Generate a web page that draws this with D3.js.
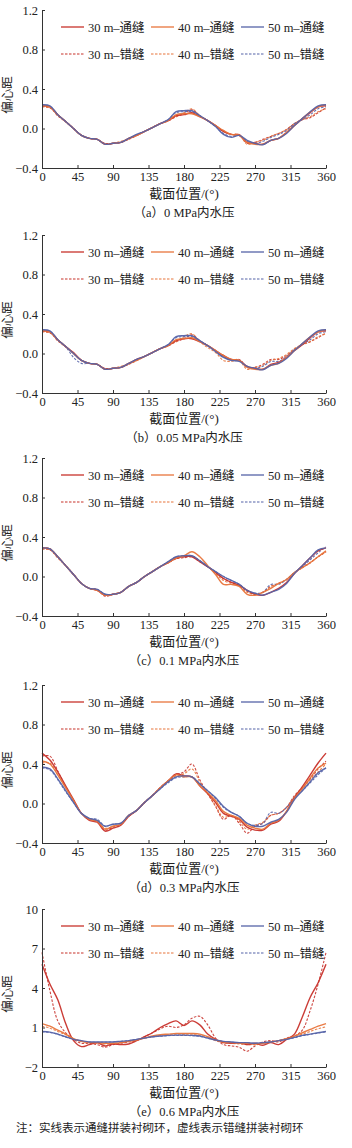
<!DOCTYPE html>
<html>
<head>
<meta charset="utf-8">
<script src="https://cdn.jsdelivr.net/npm/d3@7"></script>
<style>
body { margin: 0; background: #fff; }
text { font-family: "Liberation Serif", "Noto Sans CJK SC", serif; fill: #222; }
.axis path, .axis line { stroke: #333; stroke-width: 1; }
</style>
</head>
<body>
<svg id="chart"></svg>
<script>
var w = 352;
var h = 1148;

// angle positions shared by every series
var angles = [0,10,20,30,40,50,60,70,80,90,100,110,120,130,140,150,160,170,180,
              190,200,210,220,230,240,250,260,270,280,290,300,310,320,330,340,350,360];
var xTicks = [0,45,90,135,180,225,270,315,360];
var yTicksSmall = [-0.4,0,0.4,0.8,1.2];
var yTicksLarge = [-2,1,4,7,10];

var seriesNames = ["30 m–通缝","40 m–通缝","50 m–通缝","30 m–错缝","40 m–错缝","50 m–错缝"];
var seriesColors = ["#c8322b","#e8743b","#5563a8","#c8322b","#e8743b","#5563a8"];
var captions = ["（a）0 MPa内水压","（b）0.05 MPa内水压","（c）0.1 MPa内水压","（d）0.3 MPa内水压","（e）0.6 MPa内水压"];

// (a) 0 MPa
var a30s = [0.23,0.22,0.14,0.07,0.00,-0.07,-0.10,-0.11,-0.16,-0.15,-0.14,-0.10,-0.07,-0.03,0.01,0.05,0.08,0.13,0.14,0.16,0.12,0.08,0.03,-0.03,-0.06,-0.07,-0.14,-0.15,-0.16,-0.12,-0.10,-0.04,0.03,0.10,0.16,0.22,0.23];
var a40s = [0.23,0.22,0.14,0.07,0.00,-0.07,-0.10,-0.11,-0.16,-0.15,-0.14,-0.10,-0.07,-0.03,0.01,0.05,0.08,0.14,0.15,0.15,0.12,0.08,0.03,-0.02,-0.06,-0.07,-0.14,-0.16,-0.16,-0.12,-0.10,-0.04,0.03,0.10,0.17,0.22,0.24];
var a50s = [0.24,0.23,0.14,0.07,0.00,-0.07,-0.10,-0.11,-0.16,-0.15,-0.14,-0.10,-0.06,-0.03,0.01,0.05,0.09,0.17,0.18,0.18,0.13,0.08,0.02,-0.06,-0.09,-0.07,-0.12,-0.15,-0.165,-0.12,-0.10,-0.05,0.03,0.10,0.17,0.23,0.24];
var a30d = [0.22,0.21,0.13,0.07,0.00,-0.07,-0.10,-0.11,-0.15,-0.15,-0.14,-0.11,-0.07,-0.03,0.01,0.05,0.08,0.12,0.15,0.19,0.13,0.08,0.03,-0.03,-0.06,-0.06,-0.15,-0.14,-0.11,-0.08,-0.05,-0.01,0.05,0.09,0.11,0.16,0.21];
var a40d = [0.22,0.21,0.13,0.07,0.00,-0.07,-0.10,-0.11,-0.16,-0.15,-0.13,-0.11,-0.07,-0.03,0.01,0.05,0.08,0.12,0.16,0.20,0.13,0.08,0.03,-0.03,-0.06,-0.06,-0.16,-0.14,-0.12,-0.08,-0.05,-0.01,0.05,0.09,0.12,0.17,0.20];
var a50d = [0.23,0.22,0.14,0.07,0.00,-0.07,-0.10,-0.11,-0.16,-0.15,-0.14,-0.10,-0.06,-0.03,0.01,0.05,0.09,0.16,0.17,0.17,0.13,0.08,0.02,-0.05,-0.08,-0.07,-0.13,-0.15,-0.13,-0.09,-0.06,-0.02,0.05,0.09,0.14,0.20,0.22];

// (b) 0.05 MPa
var b30s = [0.23,0.22,0.14,0.07,0.01,-0.07,-0.10,-0.11,-0.16,-0.15,-0.14,-0.10,-0.06,-0.03,0.01,0.05,0.08,0.13,0.15,0.15,0.12,0.08,0.03,-0.02,-0.06,-0.07,-0.13,-0.15,-0.16,-0.11,-0.09,-0.04,0.03,0.09,0.16,0.22,0.23];
var b40s = [0.23,0.22,0.14,0.07,0.00,-0.07,-0.10,-0.11,-0.16,-0.15,-0.14,-0.10,-0.07,-0.03,0.01,0.05,0.08,0.14,0.15,0.16,0.12,0.08,0.03,-0.02,-0.06,-0.07,-0.14,-0.16,-0.16,-0.12,-0.10,-0.04,0.03,0.10,0.17,0.22,0.24];
var b50s = [0.24,0.23,0.14,0.07,0.00,-0.07,-0.10,-0.11,-0.16,-0.15,-0.14,-0.10,-0.06,-0.03,0.01,0.05,0.09,0.17,0.18,0.18,0.13,0.08,0.02,-0.04,-0.07,-0.08,-0.13,-0.15,-0.165,-0.12,-0.10,-0.05,0.03,0.10,0.17,0.23,0.24];
var b30d = [0.22,0.21,0.13,0.07,0.00,-0.07,-0.10,-0.11,-0.15,-0.15,-0.14,-0.11,-0.07,-0.03,0.01,0.05,0.08,0.12,0.15,0.19,0.13,0.08,0.03,-0.03,-0.07,-0.06,-0.14,-0.14,-0.11,-0.06,-0.06,-0.02,0.04,0.09,0.12,0.16,0.21];
var b40d = [0.22,0.21,0.13,0.07,0.00,-0.07,-0.10,-0.11,-0.16,-0.15,-0.13,-0.11,-0.07,-0.03,0.01,0.05,0.08,0.12,0.17,0.20,0.12,0.06,0.01,-0.07,-0.08,-0.07,-0.16,-0.14,-0.12,-0.07,-0.05,-0.01,0.05,0.09,0.12,0.17,0.20];
var b50d = [0.23,0.22,0.14,0.07,-0.04,-0.10,-0.10,-0.11,-0.16,-0.15,-0.14,-0.10,-0.06,-0.03,0.01,0.05,0.09,0.16,0.17,0.17,0.13,0.08,0.02,-0.03,-0.07,-0.07,-0.13,-0.15,-0.13,-0.08,-0.08,-0.03,0.04,0.09,0.14,0.20,0.22];

// (c) 0.1 MPa
var c30s = [0.29,0.28,0.20,0.11,0.02,-0.07,-0.12,-0.14,-0.19,-0.18,-0.16,-0.10,-0.06,0.00,0.05,0.10,0.14,0.19,0.20,0.20,0.15,0.10,0.04,-0.02,-0.06,-0.09,-0.14,-0.18,-0.19,-0.16,-0.12,-0.06,0.03,0.11,0.19,0.26,0.29];
var c40s = [0.29,0.28,0.20,0.11,0.02,-0.07,-0.12,-0.14,-0.19,-0.18,-0.16,-0.10,-0.06,0.00,0.05,0.10,0.14,0.19,0.21,0.25,0.20,0.11,0.02,-0.08,-0.08,-0.10,-0.18,-0.19,-0.16,-0.12,-0.07,-0.03,0.04,0.09,0.14,0.20,0.26];
var c50s = [0.29,0.28,0.20,0.11,0.02,-0.07,-0.12,-0.13,-0.18,-0.18,-0.16,-0.10,-0.06,0.00,0.05,0.10,0.15,0.20,0.21,0.21,0.16,0.10,0.05,0.00,-0.04,-0.08,-0.14,-0.17,-0.19,-0.16,-0.13,-0.07,0.03,0.11,0.19,0.27,0.29];
var c30d = [0.28,0.27,0.19,0.11,0.02,-0.07,-0.12,-0.13,-0.20,-0.18,-0.16,-0.10,-0.06,0.00,0.05,0.10,0.14,0.18,0.19,0.20,0.15,0.10,0.04,-0.02,-0.06,-0.08,-0.15,-0.18,-0.16,-0.10,-0.07,-0.03,0.04,0.09,0.14,0.20,0.25];
var c40d = [0.28,0.27,0.19,0.11,0.02,-0.07,-0.12,-0.14,-0.19,-0.18,-0.16,-0.10,-0.06,0.00,0.05,0.10,0.14,0.18,0.20,0.21,0.16,0.10,0.03,-0.04,-0.07,-0.09,-0.16,-0.18,-0.16,-0.10,-0.07,-0.03,0.04,0.09,0.14,0.20,0.25];
var c50d = [0.29,0.28,0.20,0.11,0.02,-0.07,-0.12,-0.13,-0.18,-0.18,-0.16,-0.10,-0.06,0.00,0.05,0.10,0.15,0.20,0.21,0.21,0.16,0.10,0.05,0.00,-0.04,-0.08,-0.14,-0.17,-0.16,-0.08,-0.08,-0.03,0.04,0.10,0.17,0.24,0.30];

// (d) 0.3 MPa
var d30s = [0.51,0.44,0.32,0.18,0.04,-0.10,-0.17,-0.19,-0.28,-0.25,-0.22,-0.13,-0.07,0.01,0.08,0.16,0.23,0.30,0.28,0.27,0.18,0.10,0.01,-0.10,-0.13,-0.16,-0.24,-0.27,-0.27,-0.21,-0.18,-0.08,0.06,0.17,0.29,0.41,0.51];
var d40s = [0.43,0.40,0.29,0.16,0.03,-0.10,-0.16,-0.18,-0.26,-0.23,-0.21,-0.12,-0.07,0.01,0.08,0.16,0.23,0.29,0.27,0.27,0.18,0.11,0.03,-0.08,-0.12,-0.15,-0.22,-0.25,-0.26,-0.20,-0.17,-0.08,0.05,0.15,0.26,0.36,0.41];
var d50s = [0.37,0.35,0.25,0.13,0.01,-0.10,-0.15,-0.17,-0.23,-0.21,-0.20,-0.12,-0.07,0.01,0.08,0.15,0.22,0.27,0.28,0.27,0.20,0.13,0.06,-0.03,-0.09,-0.13,-0.20,-0.23,-0.23,-0.19,-0.16,-0.09,0.04,0.13,0.22,0.31,0.36];
var d30d = [0.48,0.48,0.33,0.17,0.03,-0.10,-0.16,-0.18,-0.27,-0.24,-0.21,-0.13,-0.07,0.01,0.08,0.16,0.23,0.29,0.32,0.40,0.24,0.10,-0.03,-0.16,-0.12,-0.20,-0.30,-0.23,-0.20,-0.12,-0.10,-0.04,0.08,0.16,0.25,0.35,0.43];
var d40d = [0.41,0.41,0.29,0.16,0.03,-0.10,-0.16,-0.18,-0.25,-0.23,-0.21,-0.12,-0.07,0.01,0.08,0.16,0.23,0.28,0.30,0.35,0.22,0.10,-0.02,-0.14,-0.12,-0.18,-0.26,-0.22,-0.19,-0.12,-0.10,-0.04,0.07,0.15,0.24,0.32,0.40];
var d50d = [0.36,0.34,0.24,0.12,0.01,-0.10,-0.15,-0.16,-0.23,-0.21,-0.20,-0.12,-0.07,0.01,0.08,0.15,0.21,0.26,0.27,0.27,0.20,0.13,0.05,-0.04,-0.09,-0.13,-0.20,-0.22,-0.20,-0.09,-0.10,-0.04,0.06,0.13,0.21,0.29,0.36];

// (e) 0.6 MPa
var e30s = [5.8,4.3,3.1,1.3,0.0,-0.45,-0.3,-0.15,-0.4,-0.25,-0.3,-0.25,0.0,0.3,0.6,1.0,1.3,1.5,1.15,1.5,1.2,0.5,0.1,-0.15,-0.2,-0.15,-0.3,-0.2,-0.35,-0.15,-0.3,0.1,0.5,1.8,3.3,4.4,5.8];
var e40s = [1.3,1.1,0.8,0.5,0.15,-0.05,-0.15,-0.15,-0.2,-0.2,-0.15,-0.05,0.05,0.2,0.35,0.45,0.5,0.55,0.55,0.55,0.5,0.3,0.05,-0.1,-0.15,-0.2,-0.2,-0.25,-0.2,-0.1,0.0,0.15,0.35,0.6,0.85,1.1,1.3];
var e50s = [0.7,0.65,0.5,0.3,0.1,0.0,-0.1,-0.1,-0.1,-0.1,-0.05,0.0,0.1,0.2,0.3,0.35,0.4,0.42,0.42,0.4,0.35,0.2,0.05,-0.05,-0.1,-0.15,-0.15,-0.2,-0.15,-0.1,0.0,0.1,0.25,0.4,0.5,0.6,0.7];
var e30d = [6.7,3.8,1.5,0.6,0.1,-0.2,-0.2,-0.3,-0.5,-0.3,-0.2,-0.1,0.0,0.3,0.6,0.9,1.1,1.0,1.2,1.7,1.85,1.2,0.2,-0.3,-0.4,-0.5,-0.8,-0.4,-0.1,0.0,-0.1,0.2,0.35,0.8,2.3,4.3,6.7];
var e40d = [1.1,0.95,0.7,0.45,0.15,-0.05,-0.15,-0.2,-0.25,-0.2,-0.15,-0.05,0.05,0.2,0.3,0.4,0.45,0.45,0.45,0.45,0.4,0.25,0.0,-0.15,-0.2,-0.25,-0.3,-0.3,-0.2,-0.1,0.0,0.15,0.3,0.5,0.7,0.9,1.05];
var e50d = [0.68,0.62,0.48,0.28,0.1,-0.02,-0.1,-0.12,-0.12,-0.1,-0.05,0.0,0.1,0.2,0.28,0.34,0.38,0.4,0.4,0.38,0.33,0.18,0.04,-0.06,-0.12,-0.15,-0.18,-0.2,-0.15,-0.1,0.0,0.1,0.22,0.38,0.48,0.58,0.68];

var panels = [
    {top: 10,  domain: [-0.4, 1.2], ticks: yTicksSmall, series: [a30s,a40s,a50s,a30d,a40d,a50d]},
    {top: 235, domain: [-0.4, 1.2], ticks: yTicksSmall, series: [b30s,b40s,b50s,b30d,b40d,b50d]},
    {top: 458, domain: [-0.4, 1.2], ticks: yTicksSmall, series: [c30s,c40s,c50s,c30d,c40d,c50d]},
    {top: 685, domain: [-0.4, 1.2], ticks: yTicksSmall, series: [d30s,d40s,d50s,d30d,d40d,d50d]},
    {top: 909, domain: [-2, 10],    ticks: yTicksLarge, series: [e30s,e40s,e50s,e30d,e40d,e50d]}
];

var left = 42, right = 326, ph = 158;

var svg = d3.select("#chart")
    .attr("width", w)
    .attr("height", h);

var xScale = d3.scaleLinear()
    .domain([0, 360])
    .range([left, right]);

panels.forEach(function(p, i) {
    var g = svg.append("g");
    var yScale = d3.scaleLinear()
        .domain(p.domain)
        .range([p.top + ph, p.top]);

    var line = d3.line()
        .x(function(d, j) { return xScale(angles[j]); })
        .y(function(d) { return yScale(d); })
        .curve(d3.curveCatmullRom.alpha(0.5));

    // dashed first so the solid lines sit on top
    [3,4,5,0,1,2].forEach(function(k) {
        g.append("path")
            .datum(p.series[k])
            .attr("fill", "none")
            .attr("stroke", seriesColors[k])
            .attr("stroke-width", k < 3 ? 1.4 : 1.1)
            .attr("stroke-dasharray", k < 3 ? null : "2.5,1.5")
            .attr("opacity", k < 3 ? 0.95 : 0.9)
            .attr("d", line);
    });

    var xAxis = d3.axisBottom(xScale)
        .tickValues(xTicks)
        .tickSizeInner(-3)
        .tickSizeOuter(0)
        .tickPadding(4.5);
    var yAxis = d3.axisLeft(yScale)
        .tickValues(p.ticks)
        .tickSizeInner(-3)
        .tickSizeOuter(0)
        .tickPadding(4);

    var gx = g.append("g")
        .attr("class", "axis")
        .attr("transform", "translate(0," + (p.top + ph) + ")")
        .call(xAxis);
    gx.selectAll("text").attr("font-size", 12.5).attr("fill", "#222");

    var gy = g.append("g")
        .attr("class", "axis")
        .attr("transform", "translate(" + left + ",0)")
        .call(yAxis);
    gy.selectAll("text").attr("font-size", 12.5).attr("fill", "#222");

    // legend
    var lx = [61, 151, 241];
    seriesNames.forEach(function(name, k) {
        var row = k < 3 ? 0 : 1;
        var col = k % 3;
        var ly = p.top + (row === 0 ? 17 : 44);
        g.append("line")
            .attr("x1", lx[col]).attr("x2", lx[col] + 23)
            .attr("y1", ly).attr("y2", ly)
            .attr("stroke", seriesColors[k])
            .attr("stroke-width", row === 0 ? 1.3 : 1.1)
            .attr("stroke-dasharray", row === 0 ? null : "2.5,1.5");
        g.append("text")
            .attr("x", lx[col] + 27)
            .attr("y", ly + 4.5)
            .attr("font-size", 12.5)
            .text(name);
    });

    g.append("text")
        .attr("transform", "translate(12," + (p.top + 85) + ") rotate(-90)")
        .attr("text-anchor", "middle")
        .attr("font-size", 12.5)
        .text("偏心距");

    g.append("text")
        .attr("x", (left + right) / 2)
        .attr("y", p.top + ph + 30)
        .attr("text-anchor", "middle")
        .attr("font-size", 13)
        .text("截面位置/(°)");

    g.append("text")
        .attr("x", (left + right) / 2)
        .attr("y", p.top + ph + 49)
        .attr("text-anchor", "middle")
        .attr("font-size", 12.5)
        .text(captions[i]);
});

svg.append("text")
    .attr("x", 16)
    .attr("y", 1132)
    .attr("font-size", 11.5)
    .text("注：实线表示通缝拼装衬砌环，虚线表示错缝拼装衬砌环");
</script>
</body>
</html>
